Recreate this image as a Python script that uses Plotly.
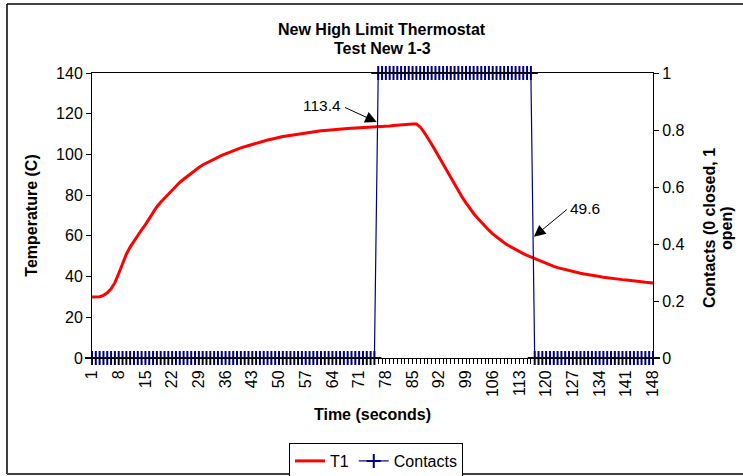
import plotly.graph_objects as go

# ---- data ----
time_s = list(range(1, 149))
t1 = [
    30.0, 30.0, 30.1, 30.8, 32.0, 34.0, 37.0, 41.5, 46.5, 51.0,
    54.5, 57.5, 60.5, 63.0, 65.5, 68.5, 71.5, 74.3, 76.5, 78.5,
    80.5, 82.5, 84.5, 86.3, 87.8, 89.3, 90.8, 92.3, 93.6, 94.8,
    95.8, 96.8, 97.8, 98.7, 99.5, 100.3, 101.1, 101.8, 102.5, 103.2,
    103.8, 104.4, 105.0, 105.6, 106.2, 106.6, 107.1, 107.5, 108.0, 108.3,
    108.8, 109.1, 109.4, 109.8, 110.0, 110.3, 110.6, 110.8, 111.1, 111.3,
    111.6, 111.8, 112.0, 112.1, 112.3, 112.5, 112.6, 112.7, 112.8, 112.9,
    113.0, 113.1, 113.2, 113.3, 113.3, 113.4, 113.6, 113.8, 114.0, 114.2,
    114.4, 114.5, 114.7, 114.8, 114.9, 114.9, 113.5, 111.0, 108.2, 105.0,
    101.8, 98.5, 95.0, 91.5, 88.2, 85.0, 82.0, 79.0, 76.2, 73.5,
    71.0, 68.8, 66.7, 64.7, 62.8, 61.0, 59.4, 57.9, 56.6, 55.4,
    54.3, 53.3, 52.3, 51.3, 50.4, 49.6, 48.7, 47.9, 47.1, 46.4,
    45.7, 45.0, 44.4, 43.9, 43.4, 42.9, 42.4, 42.0, 41.6, 41.3,
    40.9, 40.6, 40.3, 40.0, 39.7, 39.4, 39.2, 39.0, 38.7, 38.5,
    38.3, 38.0, 37.8, 37.6, 37.4, 37.2, 37.1, 36.9,
]
contacts = [0] * 75 + [1] * 41 + [0] * 32
tick_labels = [str(v) for v in range(1, 149, 7)]
annot_values = ["113.4", "49.6"]
title_lines = ["New High Limit Thermostat", "Test New 1-3"]
y2_title_lines = ["Contacts (0 closed, 1", "open)"]

FONT = "Liberation Sans, Arial, sans-serif"

fig = go.Figure()
fig.add_trace(go.Scatter(
    x=time_s, y=t1, name="T1", mode="lines",
    line=dict(color="#FF0000", width=3), yaxis="y",
))
fig.add_trace(go.Scatter(
    x=time_s, y=contacts, name="Contacts", mode="lines+markers",
    line=dict(color="#000080", width=1.2),
    marker=dict(symbol="cross-thin", size=10, line=dict(color="#000080", width=2)),
    yaxis="y2", cliponaxis=False,
))

all_ticktext = [str(v) if str(v) in tick_labels else "" for v in time_s]

fig.update_layout(
    width=743, height=476,
    margin=dict(l=92, r=90, t=73, b=118, autoexpand=False),
    paper_bgcolor="white", plot_bgcolor="white",
    font=dict(family=FONT, size=16, color="black"),
    xaxis=dict(
        range=[1, 148], tickmode="array", tickvals=time_s, ticktext=all_ticktext,
        tickangle=-90, ticks="outside", ticklen=5, tickcolor="black", tickwidth=1,
        showline=True, linecolor="black", linewidth=1, mirror=True,
        showgrid=False, zeroline=False, automargin=False,
        title=dict(text="<b>Time (seconds)</b>", font=dict(size=16), standoff=12),
        tickfont=dict(size=16),
    ),
    yaxis=dict(
        range=[0, 140], dtick=20, tick0=0, ticks="outside", ticklen=5,
        tickcolor="black", showline=True, linecolor="black", linewidth=1,
        showgrid=False, zeroline=False, automargin=False,
        title=dict(text="<b>Temperature (C)</b>", font=dict(size=16), standoff=14),
        tickfont=dict(size=16),
    ),
    yaxis2=dict(
        range=[0, 1], dtick=0.2, tick0=0, overlaying="y", side="right",
        ticks="outside", ticklen=5, tickcolor="black", showline=True,
        linecolor="black", linewidth=1, showgrid=False, zeroline=False,
        automargin=False, tickfont=dict(size=16),
    ),
    legend=dict(
        orientation="h", x=(376 - 92) / 561, xanchor="center",
        y=(358 - 443) / 285, yanchor="top",
        bordercolor="black", borderwidth=1, bgcolor="white",
        font=dict(size=16), tracegroupgap=0,
    ),
    showlegend=True,
)


def px_x(p):
    return (p - 92) / 561


def px_y(p):
    return (358 - p) / 285


# chart title (two centred lines)
fig.add_annotation(x=px_x(382), y=px_y(30), xref="paper", yref="paper",
                   text="<b>" + title_lines[0] + "</b>", showarrow=False,
                   xanchor="center", yanchor="middle", font=dict(size=16))
fig.add_annotation(x=px_x(382), y=px_y(49), xref="paper", yref="paper",
                   text="<b>" + title_lines[1] + "</b>", showarrow=False,
                   xanchor="center", yanchor="middle", font=dict(size=16))

# right axis title (two rotated lines)
fig.add_annotation(x=px_x(709), y=px_y(228), xref="paper", yref="paper",
                   text="<b>" + y2_title_lines[0] + "</b>", showarrow=False,
                   textangle=-90, xanchor="center", yanchor="middle",
                   font=dict(size=16))
fig.add_annotation(x=px_x(726), y=px_y(228), xref="paper", yref="paper",
                   text="<b>" + y2_title_lines[1] + "</b>", showarrow=False,
                   textangle=-90, xanchor="center", yanchor="middle",
                   font=dict(size=16))

# value annotations with arrows
fig.add_annotation(x=61.2, y=123.8, xref="x", yref="y", text=annot_values[0],
                   showarrow=False, font=dict(size=15.5))
fig.add_annotation(x=75.6, y=115.9, xref="x", yref="y", ax=66.9, ay=123.4,
                   axref="x", ayref="y", text="", showarrow=True,
                   arrowhead=2, arrowsize=2.3, arrowwidth=1, arrowcolor="black")
fig.add_annotation(x=130.3, y=73.6, xref="x", yref="y", text=annot_values[1],
                   showarrow=False, font=dict(size=15.5))
fig.add_annotation(x=116.8, y=59.6, xref="x", yref="y", ax=125.8, ay=73.5,
                   axref="x", ayref="y", text="", showarrow=True,
                   arrowhead=2, arrowsize=2.3, arrowwidth=1, arrowcolor="black")

# outer chart border (left, top, bottom visible)
fig.add_shape(type="line", xref="paper", yref="paper",
              x0=px_x(7), x1=px_x(750), y0=px_y(4), y1=px_y(4),
              line=dict(color="#404040", width=2))
fig.add_shape(type="line", xref="paper", yref="paper",
              x0=px_x(7), x1=px_x(7), y0=px_y(4), y1=px_y(474),
              line=dict(color="black", width=1.5))
fig.add_shape(type="line", xref="paper", yref="paper",
              x0=px_x(7), x1=px_x(750), y0=px_y(474), y1=px_y(474),
              line=dict(color="#404040", width=2))

fig.write_html(
    "out.html",
    config={"displayModeBar": False},
    post_script="document.body.style.margin='0px';document.body.style.overflow='hidden';",
)
